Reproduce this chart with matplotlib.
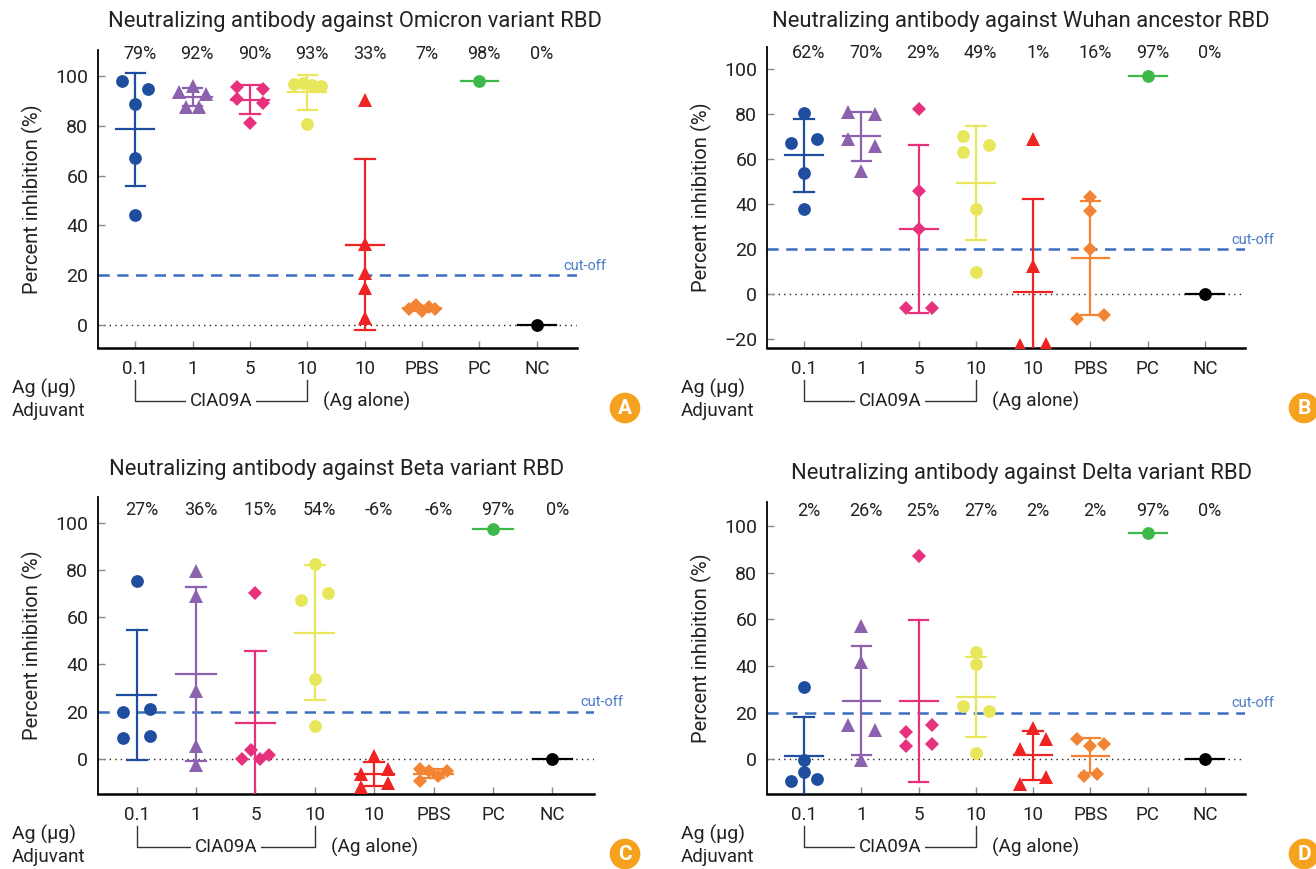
import matplotlib
matplotlib.use("Agg")
import matplotlib.pyplot as plt
import matplotlib.transforms as mtransforms
import numpy as np

plt.rcParams['font.family'] = ['Roboto', 'DejaVu Sans']

# ===== DATA =====
groups = ["0.1", "1", "5", "10", "10", "PBS", "PC", "NC"]
colors = ["#1F4E9E", "#8C62AE", "#E8317C", "#E8E65A", "#EE2424", "#F28433", "#3FB84A", "#000000"]
markers = ["o", "^", "D", "o", "^", "D", "o", "o"]

omicron = [
    [98.0, 94.9, 88.9, 67.0, 44.0],
    [93.6, 96.0, 92.9, 87.6, 87.6],
    [95.6, 94.9, 90.9, 89.2, 81.1],
    [96.9, 97.2, 96.3, 95.9, 80.9],
    [90.5, 32.5, 20.7, 14.7, 2.7],
    [6.3, 8.0, 5.7, 7.4, 6.3],
    [98.0],
    [0.0],
]
omicron_pct = ["79%", "92%", "90%", "93%", "33%", "7%", "98%", "0%"]

wuhan = [
    [80.3, 67.0, 69.0, 53.9, 37.9],
    [81.0, 80.0, 68.7, 65.8, 54.8],
    [82.1, 45.9, 29.0, -6.1, -6.1],
    [70.2, 63.1, 66.1, 37.9, 9.9],
    [68.7, 12.6, -22.7, -22.2, -31.4],
    [43.3, 37.0, 20.0, -11.0, -9.2],
    [97.0],
    [0.0],
]
wuhan_pct = ["62%", "70%", "29%", "49%", "1%", "16%", "97%", "0%"]

beta = [
    [75.2, 20.0, 21.0, 9.0, 9.9],
    [79.4, 68.9, 28.7, 5.5, -2.5],
    [70.0, 3.8, -0.1, -0.1, 1.7],
    [82.4, 67.2, 70.0, 33.9, 13.9],
    [1.4, -6.5, -4.4, -12.0, -10.0],
    [-4.4, -5.1, -5.1, -7.2, -9.2],
    [97.2],
    [0.0],
]
beta_pct = ["27%", "36%", "15%", "54%", "-6%", "-6%", "97%", "0%"]

delta = [
    [30.9, -0.3, -5.3, -9.3, -8.3],
    [57.0, 41.6, 14.7, 12.6, -0.3],
    [87.1, 14.7, 11.6, 5.7, 6.6],
    [45.9, 40.9, 22.9, 20.9, 2.9],
    [13.6, 8.6, 4.3, -7.7, -10.6],
    [8.6, 6.6, 5.7, -7.1, -6.3],
    [97.1],
    [0.0],
]
delta_pct = ["2%", "26%", "25%", "27%", "2%", "2%", "97%", "0%"]

# horizontal spreading of overlapping dots (slot units)
spread_A = [[-1, 1, 0, 0, 0], [-1, 0, 1, -0.5, 0.5], [-1, 1, -1, 1, 0], [-1, -0.33, 0.33, 1, 0],
            [0, 0, 0, 0, 0], [-1, -0.5, 0, 0.5, 1], [0], [0]]
spread_B = [[0, -1, 1, 0, 0], [-1, 1, -1, 1, 0], [0, 0, 0, -1, 1], [-1, -1, 1, 0, 0],
            [0, 0, -1, 1, 0], [0, 0, 0, -1, 1], [0], [0]]
spread_C = [[0, -1, 1, -1, 1], [0, 0, 0, 0, 0], [0, -0.33, -1, 0.33, 1], [0, -1, 1, 0, 0],
            [0, -1, 1, -1, 1], [-1, -0.33, 1, 0.33, -1], [0], [0]]
spread_D = [[0, 0, 0, -1, 1], [0, 0, -1, 1, 0], [0, 1, -1, -1, 1], [0, 0, -1, 1, 0],
            [0, 1, -1, 1, -1], [-1, 1, 0, -0.5, 0.5], [0], [0]]

CUTOFF = 20

# ===== FIGURE =====
W, H = 1316, 869
fig = plt.figure(figsize=(W / 100, H / 100), dpi=100)


def fx(px):
    return px / W


def fy(py):
    return 1 - py / H


panels = [
    dict(data=omicron, pct=omicron_pct, spread=spread_A, box=(98, 50, 577, 348), ylim=(-9.2, 110.4),
         yticks=[0, 20, 40, 60, 80, 100], pct_y=0.987, letter="A", lx=12, bx=625,
         title="Neutralizing antibody against Omicron variant RBD", tx=355, ty=21),
    dict(data=wuhan, pct=wuhan_pct, spread=spread_B, box=(767, 47, 1245, 348), ylim=(-24, 109.8),
         yticks=[-20, 0, 20, 40, 60, 80, 100], pct_y=0.979, letter="B", lx=681, bx=1304,
         title="Neutralizing antibody against Wuhan ancestor RBD", tx=1021, ty=21),
    dict(data=beta, pct=beta_pct, spread=spread_C, box=(98, 497, 594, 794), ylim=(-14.8, 110.8),
         yticks=[0, 20, 40, 60, 80, 100], pct_y=0.956, letter="C", lx=12, bx=625,
         title="Neutralizing antibody against Beta variant RBD", tx=337, ty=470),
    dict(data=delta, pct=delta_pct, spread=spread_D, box=(767, 502, 1245, 794), ylim=(-14.9, 110.4),
         yticks=[0, 20, 40, 60, 80, 100], pct_y=0.970, letter="D", lx=681, bx=1304,
         title="Neutralizing antibody against Delta variant RBD", tx=1021, ty=473),
]

slot = 0.23
half_mean = 0.33
half_cap = 0.17
msize = {"o": 9.2, "^": 9.8, "D": 7.2}
TXT = "#222222"

for p in panels:
    l, t, r, b = p["box"]
    ax = fig.add_axes([fx(l), fy(b), (r - l) / W, (b - t) / H])
    x = np.arange(len(groups))

    for i, vals in enumerate(p["data"]):
        vals = np.array(vals)
        c = colors[i]
        xs = i + np.array(p["spread"][i]) * slot
        ax.plot(xs, vals, linestyle="none", marker=markers[i], color=c,
                markersize=msize[markers[i]], markeredgewidth=0, zorder=4)
        m = vals.mean()
        ax.plot([i - half_mean, i + half_mean], [m, m], color=c, lw=1.6, zorder=3)
        if len(vals) > 1:
            sd = vals.std(ddof=1)
            ax.plot([i, i], [m - sd, m + sd], color=c, lw=1.6, zorder=3)
            for e in (m - sd, m + sd):
                ax.plot([i - half_cap, i + half_cap], [e, e], color=c, lw=1.6, zorder=3)

    ax.axhline(CUTOFF, color="#3A6FC0", lw=1.8, dashes=(4.5, 3), zorder=2)
    ax.axhline(0, color="#222222", lw=1.0, linestyle=(0, (1, 3)), zorder=1)
    ax.text(7.47, CUTOFF + 1.0, "cut-off", color="#4A7CC8", fontsize=10.5, ha="left", va="bottom")

    ax.set_xlim(-0.65, 7.7)
    ax.set_ylim(*p["ylim"])
    ax.set_xticks(x)
    ax.set_xticklabels(groups)
    ax.set_yticks(p["yticks"])
    ax.tick_params(axis="both", direction="in", length=5, width=1, color="#888888",
                   labelcolor=TXT)
    ax.tick_params(axis="x", pad=9, labelsize=13.5)
    ax.tick_params(axis="y", pad=7, labelsize=14)
    for s in ("top", "right"):
        ax.spines[s].set_visible(False)
    ax.spines["left"].set_linewidth(1.3)
    ax.spines["bottom"].set_linewidth(1.8)
    ax.set_ylabel("Percent inhibition (%)", fontsize=14.5, color=TXT, labelpad=9)

    # percentages above each group
    trans = mtransforms.blended_transform_factory(ax.transData, ax.transAxes)
    for i, s in enumerate(p["pct"]):
        ax.text(i + 0.08, p["pct_y"], s, transform=trans, ha="center", va="center",
                fontsize=13, color=TXT)

    # title
    fig.text(fx(p["tx"]), fy(p["ty"]), p["title"], ha="center", va="center",
             fontsize=15.8, color=TXT)

    # bottom annotation
    fig.text(fx(p["lx"]), fy(b + 40), "Ag (μg)", ha="left", va="center", fontsize=14, color=TXT)
    fig.text(fx(p["lx"]), fy(b + 63), "Adjuvant", ha="left", va="center", fontsize=13.5, color=TXT)
    btr = mtransforms.blended_transform_factory(ax.transData, fig.transFigure)
    ax.plot([0, 0, 3, 3], [fy(b + 32), fy(b + 53), fy(b + 53), fy(b + 32)], color="#333333",
            lw=1.0, transform=btr, clip_on=False)
    ax.text(1.5, fy(b + 53), "CIA09A", transform=btr, ha="center", va="center", fontsize=13.5,
            color=TXT, bbox=dict(boxstyle="square,pad=0.2", fc="white", ec="none"))
    ax.text(3.28, fy(b + 53), "(Ag alone)", transform=btr, ha="left", va="center",
            fontsize=13.7, color=TXT)

    # panel letter
    fig.text(fx(p["bx"]), fy(b + 60), p["letter"], ha="center", va="center", fontsize=15,
             fontweight="bold", color="white",
             bbox=dict(boxstyle="circle,pad=0.28", fc="#F5A21E", ec="none"))

plt.savefig("out.png", dpi=100)
